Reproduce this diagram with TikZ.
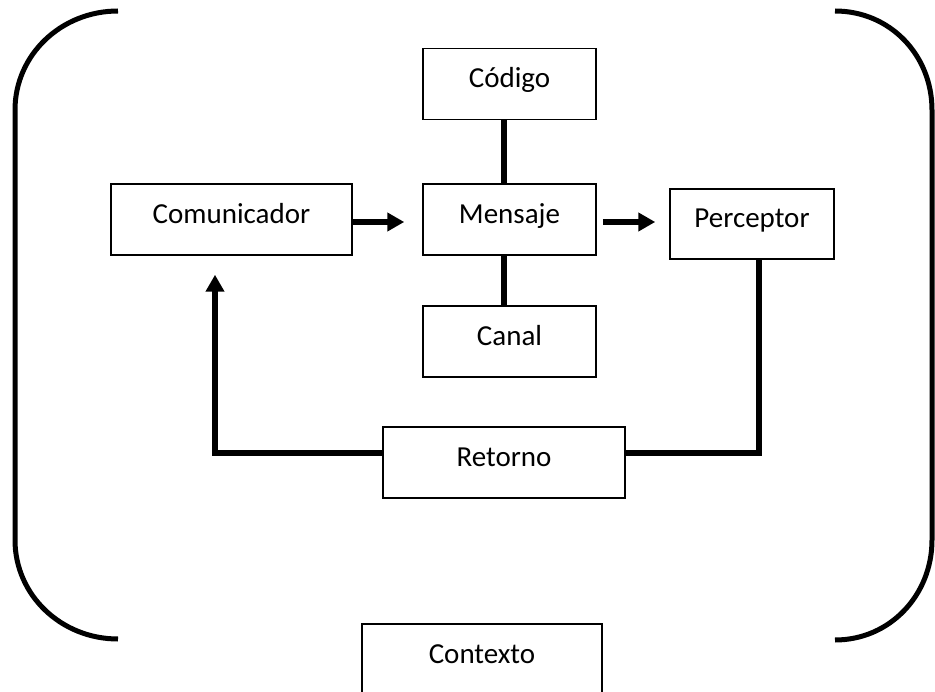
\documentclass[tikz,border=0pt]{standalone}
\usepackage{fontspec}
\setmainfont{Carlito}
\usetikzlibrary{arrows.meta}

\begin{document}
\begin{tikzpicture}[x=1pt,y=-1pt,
        caja/.style={draw,line width=1.5pt,minimum height=71pt,inner sep=0pt,text height=20pt,text depth=12pt,font=\fontsize{29}{35}\selectfont},
        linea/.style={line width=5.5pt},
        flecha/.style={line width=5.5pt,-{Triangle[length=17pt,width=18pt]}}]
        \clip(0,0)rectangle(935,692);

        % cajas
        \node[caja,minimum width=173pt](codigo)at(509.5,84){Código};
        \node[caja,minimum width=173pt](mensaje)at(509.5,219.5){Mensaje};
        \node[caja,minimum width=173pt](canal)at(509.5,341.5){Canal};
        \node[caja,minimum width=241pt](comunicador)at(231.5,219.5){Comunicador};
        \node[caja,minimum width=164pt,minimum height=70pt](perceptor)at(752,224){Perceptor};
        \node[caja,minimum width=242pt](retorno)at(504,462.5){Retorno};
        \node[caja,minimum width=240pt](contexto)at(482,659.5){Contexto};

        % conexiones
        \draw[linea]([xshift=-5.5pt]codigo.south)--([xshift=-5.5pt]mensaje.north);
        \draw[linea]([xshift=-5.5pt]mensaje.south)--([xshift=-5.5pt]canal.north);
        \draw[flecha]([yshift=-2.5pt]comunicador.east)--([xshift=-18pt,yshift=-2.5pt]mensaje.west);
        \draw[flecha]([xshift=6pt,yshift=-2.5pt]mensaje.east)--([xshift=-14pt,yshift=2pt]perceptor.west);
        \draw[linea]([xshift=7pt]perceptor.south)|-([yshift=9.5pt]retorno.east);
        \draw[flecha,shorten >=19pt]([yshift=9.5pt]retorno.west)-|([xshift=-16.5pt]comunicador.south);

        % llaves del contexto
        \draw[line width=5pt](118,11)..controls(61,11)and(15,55)..(15,110)--(15,540)..controls(15,595)and(61,639)..(118,639);
        \draw[line width=5pt](835,11)..controls(890,11)and(932,55)..(932,110)--(932,540)..controls(932,595)and(890,640)..(835,640);
    \end{tikzpicture}
\end{document}
